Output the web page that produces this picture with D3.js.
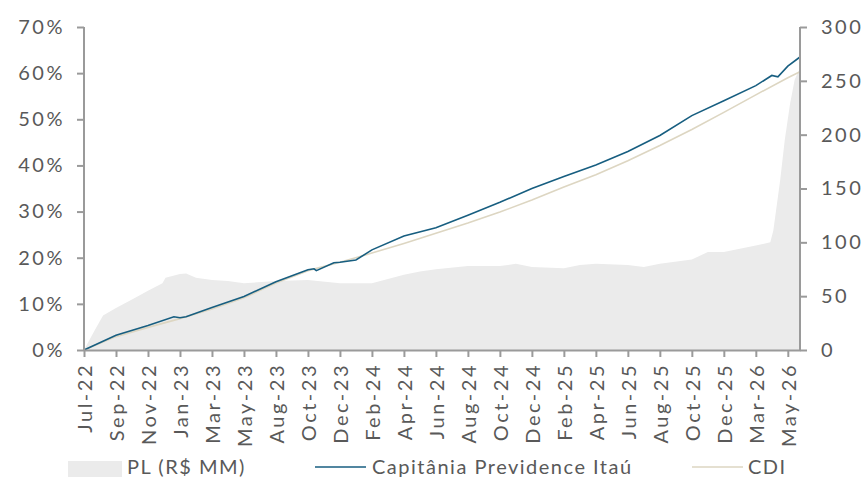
<!DOCTYPE html>
<html>
<meta charset="utf-8">
<script src="https://d3js.org/d3.v7.min.js"></script>
<style>
  body { margin: 0; background: #fff; }
  text { font-family: Lato, "Open Sans", sans-serif; fill: #595959; }
  .axis text { font-size: 20px; letter-spacing: 2.5px; }
  .legend text { font-size: 20px; letter-spacing: 1.5px; }
  .axis path, .axis line { stroke: #9a9a9a; stroke-width: 2px; }
</style>
<body>
<div id="vis"></div>
<script>
// x is a business-day index; one label every 42 business days
const tickLabels = ["Jul-22","Sep-22","Nov-22","Jan-23","Mar-23","May-23","Aug-23","Oct-23","Dec-23",
  "Feb-24","Apr-24","Jun-24","Aug-24","Oct-24","Dec-24","Feb-25","Apr-25","Jun-25","Aug-25",
  "Oct-25","Dec-25","Mar-26","May-26"];
const tickStep = 42;
const lastDay = 940;

// PL (R$ MM), right axis
const plDays = [0,13,25,42,63,84,103,107,126,134,147,168,189,210,252,294,336,378,399,420,441,462,
  504,546,567,588,630,651,672,714,735,756,798,819,840,882,901,905,914,920,927,933,940];
const plValues = [0,17,32,39,47,55,62,67,70.5,71,67,65,64,62,64,65,62,62,66,70,73,75,
  78,78,80,77,76,79,80,79,77,80,84,91,91,97,100,111,158,195,229,251,262];

// Capitânia Previdence Itaú, left axis (%)
const fundDays = [0,42,84,118,126,134,168,210,252,294,302,305,328,336,357,378,420,462,504,546,
  588,630,672,714,756,798,840,882,903,911,924,940];
const fundValues = [0,3.2,5.3,7.2,7.0,7.2,9.2,11.6,14.8,17.4,17.6,17.2,18.9,19.0,19.5,21.7,24.7,26.5,29.2,32.0,
  35.0,37.6,40.1,43.0,46.5,50.8,54.0,57.3,59.5,59.2,61.5,63.5];

// CDI, left axis (%)
const cdiDays = [0,42,84,126,168,210,252,294,336,378,420,462,504,546,588,630,672,714,756,798,840,882,924,940];
const cdiValues = [0,2.9,4.9,6.8,8.9,11.3,14.5,17.2,19.0,21.0,23.1,25.3,27.5,29.9,32.5,35.3,38.0,41.0,
  44.3,47.8,51.5,55.3,59.0,60.3];

const W = 868, H = 477;
const m = {left: 84, right: 800, top: 27, bottom: 350};

const svg = d3.select("#vis").append("svg").attr("width", W).attr("height", H);

const x = d3.scaleLinear().domain([0, lastDay]).range([m.left, m.right]);
const yL = d3.scaleLinear().domain([0, 70]).range([m.bottom, m.top]);
const yR = d3.scaleLinear().domain([0, 300]).range([m.bottom, m.top]);

// PL area
const plData = plDays.map((d, i) => [d, plValues[i]]);
svg.append("path")
  .datum(plData)
  .attr("fill", "#ebebeb")
  .attr("d", d3.area().x(d => x(d[0])).y0(m.bottom).y1(d => yR(d[1])));

// lines
const cdiData = cdiDays.map((d, i) => [d, cdiValues[i]]);
const fundData = fundDays.map((d, i) => [d, fundValues[i]]);
const line = d3.line().x(d => x(d[0])).y(d => yL(d[1]));
svg.append("path").datum(cdiData)
  .attr("fill", "none").attr("stroke", "#ddd6c2").attr("stroke-width", 1.6).attr("d", line);
svg.append("path").datum(fundData)
  .attr("fill", "none").attr("stroke", "#175e80").attr("stroke-width", 1.6).attr("d", line);

// axes
const gl = svg.append("g").attr("class", "axis")
  .attr("transform", `translate(${m.left},0)`)
  .call(d3.axisLeft(yL).tickValues(d3.range(0, 71, 10)).tickSize(7).tickPadding(12)
    .tickFormat(d => d + "%"));
gl.selectAll("text").style("fill", "#595959");

const gr = svg.append("g").attr("class", "axis")
  .attr("transform", `translate(${m.right},0)`)
  .call(d3.axisRight(yR).tickValues(d3.range(0, 301, 50)).tickSize(7).tickPadding(14));
gr.selectAll("text").style("fill", "#595959");

const gx = svg.append("g").attr("class", "axis")
  .attr("transform", `translate(0,${m.bottom})`)
  .call(d3.axisBottom(x).tickValues(tickLabels.map((d, i) => i * tickStep)).tickSize(7)
    .tickSizeOuter(0).tickFormat((d, i) => tickLabels[i]));
gx.selectAll("text")
  .style("fill", "#595959")
  .attr("text-anchor", "end")
  .attr("transform", "rotate(-90)")
  .attr("x", -13).attr("y", 0).attr("dy", "0.36em");
gl.select(".domain").attr("d", `M0,${m.top}V${m.bottom}`);
gr.select(".domain").attr("d", `M0,${m.top}V${m.bottom}`);

// legend
const lg = svg.append("g").attr("class", "legend");
lg.append("rect").attr("x", 68).attr("y", 461).attr("width", 54).attr("height", 20).attr("fill", "#ebebeb");
lg.append("text").attr("x", 127).attr("y", 474).text("PL (R$ MM)");
lg.append("line").attr("x1", 315).attr("x2", 366).attr("y1", 467).attr("y2", 467)
  .attr("stroke", "#175e80").attr("stroke-width", 1.6);
lg.append("text").attr("x", 372).attr("y", 474).text("Capitânia Previdence Itaú");
lg.append("line").attr("x1", 692).attr("x2", 743).attr("y1", 467).attr("y2", 467)
  .attr("stroke", "#ddd6c2").attr("stroke-width", 1.6);
lg.append("text").attr("x", 748).attr("y", 474).text("CDI");
</script>
</body>
</html>
